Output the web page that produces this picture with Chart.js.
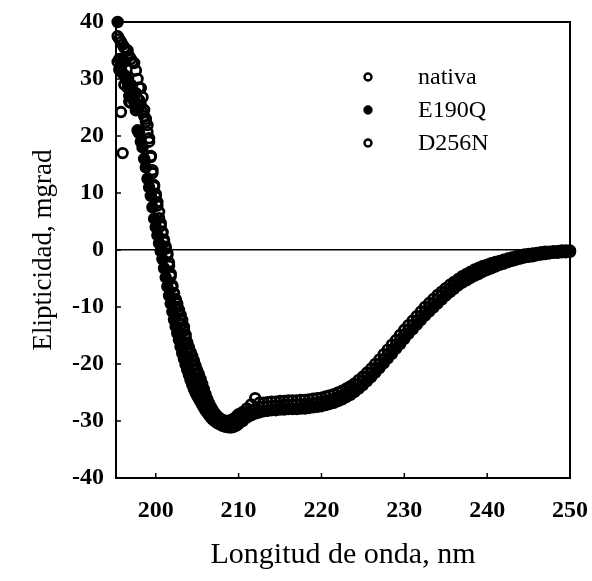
<!DOCTYPE html>
<html>
<head>
<meta charset="utf-8">
<script src="https://cdn.jsdelivr.net/npm/chart.js@4/dist/chart.umd.min.js"></script>
<style>
  html, body { margin: 0; padding: 0; background: #fff; }
  #wrap { width: 592px; height: 581px; }
</style>
</head>
<body>
<div id="wrap"><canvas id="cdChart"></canvas></div>
<script>
// Wavelength grid (nm): 0.2 nm steps up to 209.8, then 0.5 nm steps
var wavelength = [
  195.4, 195.6, 195.8, 196.0, 196.2, 196.4, 196.6, 196.8, 197.0, 197.2,
  197.4, 197.6, 197.8, 198.0, 198.2, 198.4, 198.6, 198.8, 199.0, 199.2,
  199.4, 199.6, 199.8, 200.0, 200.2, 200.4, 200.6, 200.8, 201.0, 201.2,
  201.4, 201.6, 201.8, 202.0, 202.2, 202.4, 202.6, 202.8, 203.0, 203.2,
  203.4, 203.6, 203.8, 204.0, 204.2, 204.4, 204.6, 204.8, 205.0, 205.2,
  205.4, 205.6, 205.8, 206.0, 206.2, 206.4, 206.6, 206.8, 207.0, 207.2,
  207.4, 207.6, 207.8, 208.0, 208.2, 208.4, 208.6, 208.8, 209.0, 209.2,
  209.4, 209.6, 209.8, 210.0, 210.5, 211.0, 211.5, 212.0, 212.5, 213.0,
  213.5, 214.0, 214.5, 215.0, 215.5, 216.0, 216.5, 217.0, 217.5, 218.0,
  218.5, 219.0, 219.5, 220.0, 220.5, 221.0, 221.5, 222.0, 222.5, 223.0,
  223.5, 224.0, 224.5, 225.0, 225.5, 226.0, 226.5, 227.0, 227.5, 228.0,
  228.5, 229.0, 229.5, 230.0, 230.5, 231.0, 231.5, 232.0, 232.5, 233.0,
  233.5, 234.0, 234.5, 235.0, 235.5, 236.0, 236.5, 237.0, 237.5, 238.0,
  238.5, 239.0, 239.5, 240.0, 240.5, 241.0, 241.5, 242.0, 242.5, 243.0,
  243.5, 244.0, 244.5, 245.0, 245.5, 246.0, 246.5, 247.0, 247.5, 248.0,
  248.5, 249.0, 249.5, 250.0
];

// Ellipticity (mgrad)
var nativa = [
  37.5, 37, 36.5, 36, 35.5, 35.2, 35, 34, 33.5, 33,
  32.8, 31.5, 30, 28.5, 28.4, 26.8, 24.6, 23, 21.9, 19.6,
  16.3, 13.5, 11.4, 9.3, 7.8, 5.6, 4.2, 3, 1.8, 0.6,
  -0.6, -2.2, -4.2, -6.2, -7.6, -8.6, -9.4, -10.5, -11.4, -12.3,
  -13.5, -14.9, -16.2, -17.1, -17.9, -18.6, -19.4, -20.3, -21.1, -21.8,
  -22.6, -23.5, -24.4, -25.3, -26.1, -26.8, -27.4, -27.9, -28.4, -28.8,
  -29.1, -29.4, -29.6, -29.8, -29.9, -30.0, -30.0, -30.0, -29.9, -29.8,
  -29.6, -29.4, -29.1, -28.8, -28.4, -27.8, -27.1, -26.0, -26.8, -26.8,
  -26.7, -26.6, -26.6, -26.5, -26.5, -26.4, -26.4, -26.4, -26.3, -26.3,
  -26.2, -26.1, -26.0, -25.9, -25.7, -25.5, -25.3, -25.0, -24.7, -24.3,
  -23.9, -23.4, -22.8, -22.2, -21.5, -20.8, -20.0, -19.2, -18.3, -17.5,
  -16.6, -15.8, -14.9, -14.0, -13.2, -12.4, -11.6, -10.8, -10.0, -9.3,
  -8.6, -7.9, -7.3, -6.7, -6.1, -5.6, -5.1, -4.6, -4.2, -3.8,
  -3.4, -3.1, -2.8, -2.6, -2.3, -2.1, -1.9, -1.7, -1.5, -1.3,
  -1.1, -1.0, -0.8, -0.7, -0.6, -0.5, -0.4, -0.3, -0.3, -0.2,
  -0.2, -0.1, -0.1, -0.1
];

var e190q = [
  40, 33.5, 32, 31, 33, 30, 28.5, 27, 29, 27.5,
  26, 24.5, 21, 20.5, 19, 18, 16, 14.5, 12.5, 11,
  9.5, 7.5, 5.5, 4, 2.6, 1.2, -0.2, -1.6, -3.2, -4.8,
  -6.4, -8, -9.4, -10.8, -12.2, -13.4, -14.6, -15.8, -17, -18.1,
  -19.1, -20.1, -21, -21.9, -22.8, -23.6, -24.4, -25.0, -25.6, -26.1,
  -26.6, -27.1, -27.6, -28.1, -28.5, -28.9, -29.3, -29.6, -29.9, -30.1,
  -30.3, -30.5, -30.6, -30.8, -30.9, -31.0, -31.0, -31.1, -31.1, -31.1,
  -31.0, -30.9, -30.7, -30.5, -30.0, -29.4, -29.0, -28.7, -28.5, -28.3,
  -28.2, -28.1, -28.1, -28.0, -28.0, -27.9, -27.9, -27.9, -27.8, -27.8,
  -27.7, -27.6, -27.5, -27.4, -27.2, -27.0, -26.8, -26.5, -26.2, -25.8,
  -25.4, -24.9, -24.3, -23.7, -23.0, -22.3, -21.5, -20.7, -19.9, -19.0,
  -18.2, -17.3, -16.5, -15.6, -14.7, -13.9, -13.1, -12.3, -11.5, -10.8,
  -10.1, -9.4, -8.7, -8.0, -7.4, -6.8, -6.2, -5.7, -5.3, -4.9,
  -4.5, -4.2, -3.8, -3.5, -3.2, -2.9, -2.6, -2.4, -2.1, -1.9,
  -1.7, -1.5, -1.3, -1.2, -1.1, -0.9, -0.8, -0.7, -0.6, -0.5,
  -0.5, -0.4, -0.4, -0.3
];

var d256n = [
  33, 31.6, 24.2, 17, 29, 30.5, 29.3, 26, 25.8, 28,
  27, 27.5, 26.5, 26.3, 25.5, 24.2, 23.5, 22.5, 20.7, 19,
  16.5, 14, 11.1, 9.8, 8.4, 6.7, 4.7, 3.2, 1.4, 0.2,
  -0.9, -2.8, -4.6, -6.5, -7.6, -8.8, -10, -11, -12, -13,
  -14.2, -15.4, -16.5, -17.4, -18.2, -19.2, -20.1, -21, -21.6, -22.3,
  -23.0, -23.9, -24.8, -25.7, -26.5, -27.1, -27.7, -28.2, -28.6, -29.0,
  -29.3, -29.6, -29.8, -30.0, -30.1, -30.2, -30.3, -30.3, -30.3, -30.2,
  -30.1, -29.9, -29.7, -29.5, -29.1, -28.6, -28.2, -27.9, -27.6, -27.5,
  -27.4, -27.4, -27.3, -27.3, -27.2, -27.2, -27.2, -27.1, -27.1, -27.1,
  -27.0, -26.9, -26.8, -26.7, -26.5, -26.3, -26.1, -25.8, -25.5, -25.1,
  -24.7, -24.2, -23.6, -23.0, -22.3, -21.6, -20.8, -20.0, -19.2, -18.3,
  -17.5, -16.6, -15.7, -14.9, -14.0, -13.2, -12.4, -11.6, -10.8, -10.1,
  -9.4, -8.7, -8.0, -7.4, -6.8, -6.2, -5.7, -5.2, -4.8, -4.4,
  -4.0, -3.6, -3.3, -3.0, -2.8, -2.5, -2.3, -2.0, -1.8, -1.6,
  -1.4, -1.2, -1.1, -1.0, -0.9, -0.8, -0.7, -0.6, -0.5, -0.4,
  -0.3, -0.3, -0.2, -0.2
];

var seriesNames = ['nativa', 'E190Q', 'D256N'];
var xTicks = [200, 210, 220, 230, 240, 250];
var yTicks = [-40, -30, -20, -10, 0, 10, 20, 30, 40];

function toPoints(values) {
  return values.map(function (v, i) { return { x: wavelength[i], y: v }; });
}

Chart.defaults.font.family = '"Liberation Serif", "Times New Roman", serif';
Chart.defaults.color = '#000';

var openStyle = {
  pointRadius: 4.8, pointBorderWidth: 2.8,
  pointBorderColor: '#000', pointBackgroundColor: 'rgba(0,0,0,0)'
};
var fillStyle = {
  pointRadius: 5.5, pointBorderWidth: 1.5,
  pointBorderColor: '#000', pointBackgroundColor: '#000'
};

// box around the plot + small inward ticks
var framePlugin = {
  id: 'frame',
  beforeDatasetsDraw: function (chart) {
    var a = chart.chartArea, ctx = chart.ctx;
    var xs = chart.scales.x, ys = chart.scales.y;
    ctx.save();
    ctx.strokeStyle = '#000';
    ctx.lineWidth = 2;
    ctx.strokeRect(a.left, a.top, a.right - a.left, a.bottom - a.top);
    ctx.lineWidth = 1.5;
    ctx.beginPath();
    yTicks.forEach(function (v) {
      var y = ys.getPixelForValue(v);
      ctx.moveTo(a.left, y); ctx.lineTo(a.left + 5, y);
    });
    xTicks.forEach(function (v) {
      var x = xs.getPixelForValue(v);
      ctx.moveTo(x, a.bottom); ctx.lineTo(x, a.bottom - 5);
    });
    ctx.stroke();
    ctx.restore();
  }
};

// legend inside the plot, upper right
var legendPlugin = {
  id: 'insideLegend',
  afterDraw: function (chart) {
    var ctx = chart.ctx;
    var rows = [77, 110, 143];
    ctx.save();
    ctx.font = '24px "Liberation Serif", serif';
    ctx.textBaseline = 'middle';
    ctx.fillStyle = '#000';
    chart.data.datasets.forEach(function (ds, i) {
      var y = rows[i];
      ctx.beginPath();
      ctx.arc(368, y, 3.5, 0, Math.PI * 2);
      ctx.lineWidth = 2.4;
      ctx.strokeStyle = '#000';
      if (ds.pointBackgroundColor === '#000') { ctx.fill(); }
      ctx.stroke();
      ctx.fillText(ds.label, 418, y + 1);
    });
    ctx.restore();
  }
};

var ch = new Chart(document.getElementById('cdChart').getContext('2d'), {
  type: 'scatter',
  data: {
    datasets: [
      Object.assign({ label: seriesNames[0], data: toPoints(nativa), clip: 8 }, openStyle),
      Object.assign({ label: seriesNames[1], data: toPoints(e190q), clip: 8 }, fillStyle),
      Object.assign({ label: seriesNames[2], data: toPoints(d256n), clip: 8 }, openStyle)
    ]
  },
  options: {
    responsive: true,
    maintainAspectRatio: false,
    animation: false,
    layout: { padding: { top: 22, right: 22, left: 0, bottom: 0 } },
    plugins: {
      legend: { display: false },
      tooltip: { enabled: false }
    },
    scales: {
      x: {
        type: 'linear',
        min: 195.2,
        max: 250,
        afterBuildTicks: function (s) { s.ticks = xTicks.map(function (v) { return { value: v }; }); },
        afterFit: function (s) { s.height = 103; s.paddingLeft = 0; s.paddingRight = 0; },
        grid: { display: false, drawTicks: false },
        border: { display: false },
        ticks: { padding: 18, font: { size: 24, weight: 'bold' }, maxRotation: 0 },
        title: { display: true, text: 'Longitud de onda, nm', font: { size: 30 }, padding: { top: 0, bottom: 8 } }
      },
      y: {
        min: -40,
        max: 40,
        afterBuildTicks: function (s) { s.ticks = yTicks.map(function (v) { return { value: v }; }); },
        afterFit: function (s) { s.width = 116; s.paddingTop = 0; s.paddingBottom = 0; },
        grid: {
          drawTicks: false,
          lineWidth: 1.5,
          color: function (c) { return c.tick && c.tick.value === 0 ? '#000' : 'rgba(0,0,0,0)'; }
        },
        border: { display: false },
        ticks: { padding: 12, font: { size: 24, weight: 'bold' } },
        title: { display: true, text: 'Elipticidad, mgrad', font: { size: 27 }, padding: { top: 28, bottom: 0 } }
      }
    }
  },
  plugins: [framePlugin, legendPlugin]
});
</script>
</body>
</html>
